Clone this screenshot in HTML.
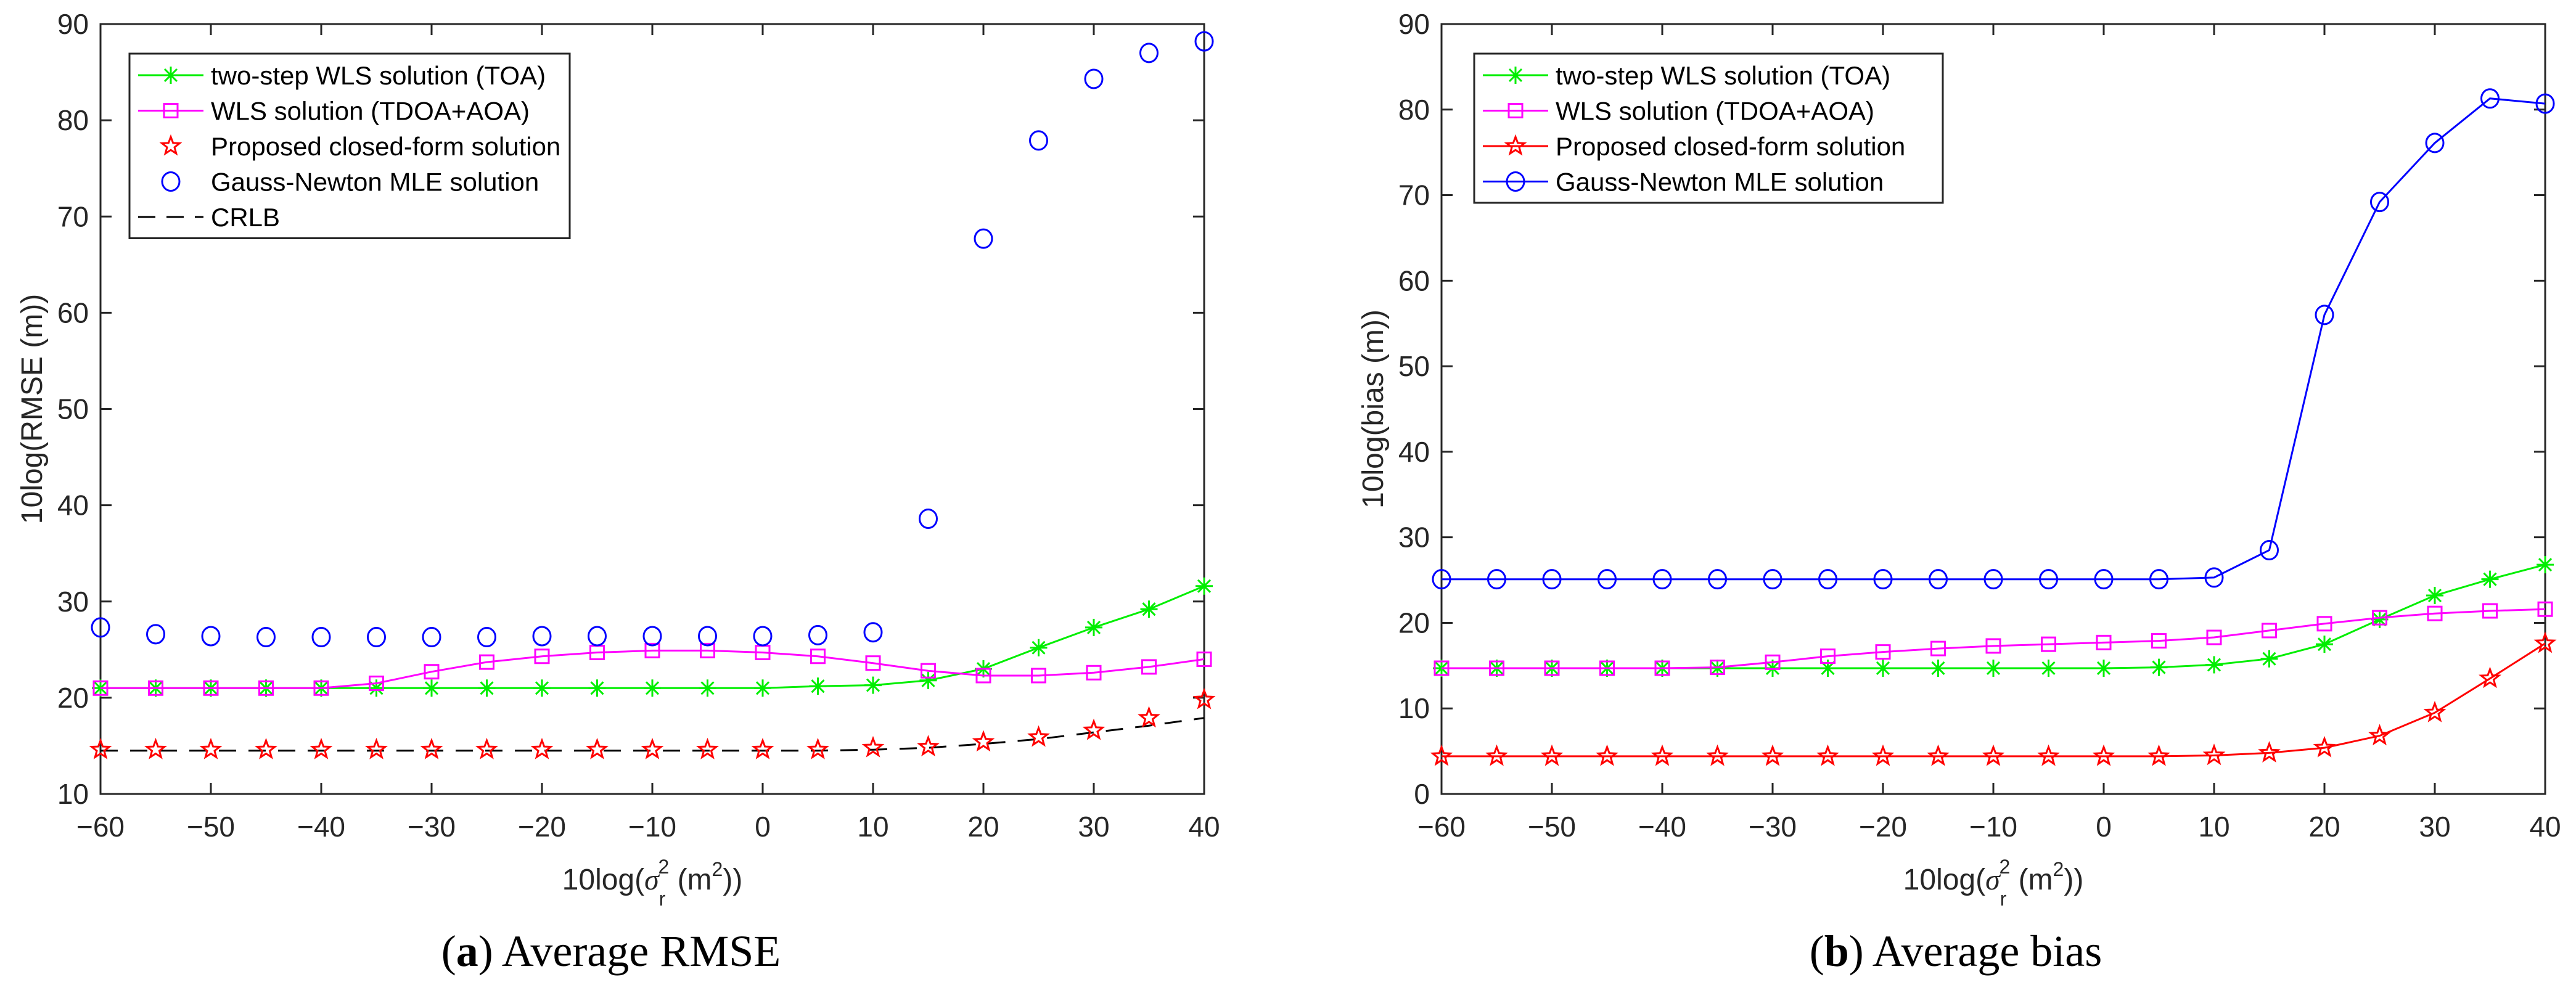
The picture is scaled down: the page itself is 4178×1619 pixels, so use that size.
<!DOCTYPE html>
<html><head><meta charset="utf-8"><style>
html,body{margin:0;padding:0;background:#fff;}
svg{display:block;font-family:"Liberation Sans",Arial,sans-serif;}
</style></head><body>
<svg id="fig" width="4178" height="1619" viewBox="0 0 4178 1619" xmlns="http://www.w3.org/2000/svg"></svg>
<script>
const xVals=[-60,-55,-50,-45,-40,-35,-30,-25,-20,-15,-10,-5,0,5,10,15,20,25,30,35,40];
const xTicks=[-60,-50,-40,-30,-20,-10,0,10,20,30,40];
const yTicksA=[10,20,30,40,50,60,70,80,90];
const yTicksB=[0,10,20,30,40,50,60,70,80,90];
// Panel (a) RMSE
const aTOA=[21,21,21,21,21,21,21,21,21,21,21,21,21,21.2,21.3,21.8,23.0,25.2,27.3,29.2,31.6];
const aTDOA=[21,21,21,21,21,21.5,22.7,23.7,24.3,24.7,24.9,24.9,24.7,24.3,23.6,22.8,22.3,22.3,22.6,23.2,24.0];
const aProp=[14.6,14.6,14.6,14.6,14.6,14.6,14.6,14.6,14.6,14.6,14.6,14.6,14.6,14.6,14.8,14.9,15.4,15.9,16.6,17.9,19.8];
const aGN=[27.3,26.6,26.4,26.3,26.3,26.3,26.3,26.3,26.4,26.4,26.4,26.4,26.4,26.5,26.8,38.6,67.7,77.9,84.3,87.0,88.2];
const aCRLB=[14.5,14.5,14.5,14.5,14.5,14.5,14.5,14.5,14.5,14.5,14.5,14.5,14.5,14.5,14.6,14.8,15.2,15.7,16.4,17.1,17.9];
// Panel (b) bias
const bTOA=[14.7,14.7,14.7,14.7,14.7,14.7,14.7,14.7,14.7,14.7,14.7,14.7,14.7,14.8,15.1,15.8,17.5,20.4,23.2,25.1,26.8];
const bTDOA=[14.7,14.7,14.7,14.7,14.7,14.8,15.4,16.1,16.6,17.0,17.3,17.5,17.7,17.9,18.3,19.1,19.9,20.6,21.1,21.4,21.6];
const bProp=[4.4,4.4,4.4,4.4,4.4,4.4,4.4,4.4,4.4,4.4,4.4,4.4,4.4,4.4,4.5,4.8,5.4,6.8,9.5,13.5,17.6];
const bGN=[25.1,25.1,25.1,25.1,25.1,25.1,25.1,25.1,25.1,25.1,25.1,25.1,25.1,25.1,25.3,28.5,56.0,69.2,76.1,81.3,80.7];

const NS="http://www.w3.org/2000/svg";
const svg=document.getElementById('fig');
function mk(tag,attrs,parent){const e=document.createElementNS(NS,tag);for(const k in attrs)e.setAttribute(k,attrs[k]);(parent||svg).appendChild(e);return e;}
function starPts(cx,cy,R){const r=R*0.42;let p=[];for(let i=0;i<10;i++){const a=-Math.PI/2+i*Math.PI/5;const rr=i%2?r:R;p.push((cx+rr*Math.cos(a)).toFixed(1)+','+(cy+rr*Math.sin(a)).toFixed(1));}return p.join(' ');}
function marker(type,cx,cy,g){
  if(type==='ast'){const s=14;
    const m=mk('g',{stroke:'#00ee00','stroke-width':3},g);
    
    mk('line',{x1:cx,y1:cy-s,x2:cx,y2:cy+s},m);mk('line',{x1:cx-s,y1:cy,x2:cx+s,y2:cy},m);
    mk('line',{x1:cx-10,y1:cy-10,x2:cx+10,y2:cy+10},m);mk('line',{x1:cx-10,y1:cy+10,x2:cx+10,y2:cy-10},m);}
  else if(type==='sq'){const e=mk('rect',{x:cx-11,y:cy-11,width:22,height:22,fill:'none',stroke:'#ff00ff','stroke-width':3},g);}
  else if(type==='star'){const e=mk('polygon',{points:starPts(cx,cy,15),fill:'none',stroke:'#ff0000','stroke-width':3},g);}
  else if(type==='circ'){const e=mk('ellipse',{cx:cx,cy:cy,rx:14,ry:15,fill:'none',stroke:'#0000ff','stroke-width':3},g);}
}
function panel(opt){
  const L=opt.left,R=opt.left+1790,T=39,B=1288;
  const sx=v=>L+(v+60)/100*(R-L);
  const sy=v=>B-(v-opt.ymin)/(opt.ymax-opt.ymin)*(B-T);
  const g=mk('g',{});
  const ax=mk('rect',{x:L,y:T,width:R-L,height:B-T,fill:'none',stroke:'#262626','stroke-width':3},g);
  
  xTicks.forEach(t=>{const x=sx(t);
    mk('line',{x1:x,y1:B,x2:x,y2:B-18,stroke:'#262626','stroke-width':3},g);
    mk('line',{x1:x,y1:T,x2:x,y2:T+18,stroke:'#262626','stroke-width':3},g);
    const tx=mk('text',{x:x,y:1357,'font-size':46,'text-anchor':'middle',fill:'#262626'},g);
    
    tx.textContent=(t<0?'\u2212'+(-t):''+t);});
  opt.yticks.forEach(t=>{const y=sy(t);
    mk('line',{x1:L,y1:y,x2:L+18,y2:y,stroke:'#262626','stroke-width':3},g);
    mk('line',{x1:R,y1:y,x2:R-18,y2:y,stroke:'#262626','stroke-width':3},g);
    const tx=mk('text',{x:L-19,y:y+16,'font-size':46,'text-anchor':'end',fill:'#262626'},g);
    
    tx.textContent=t;});
  const yl=mk('text',{x:0,y:0,'font-size':48,'text-anchor':'middle',fill:'#262626',transform:`translate(${L-95},${(T+B)/2}) rotate(-90)`},g);
  yl.textContent=opt.ylabel;
  const xl=mk('text',{x:(L+R)/2,y:1443,'font-size':48,'text-anchor':'middle',fill:'#262626'},g);
  
  xl.innerHTML='10log(<tspan font-family="Liberation Serif,serif" font-style="italic">σ</tspan><tspan dy="26" font-size="32">r</tspan><tspan dy="-52" dx="-12" font-size="32">2</tspan><tspan dy="26"> (m</tspan><tspan dy="-22" font-size="32">2</tspan><tspan dy="22">))</tspan>';
  const cap=mk('text',{x:opt.capx,y:1567,'font-size':72,'text-anchor':'middle',fill:'#000','font-family':'Liberation Serif,serif'},g);
  
  cap.innerHTML='(<tspan font-weight="bold">'+opt.letter+'</tspan>) '+opt.caption;
  return {g,sx,sy};
}
function series(p,vals,color,mtype,line,dash,name){
  const sg=mk('g',{},p.g);
  if(line){const pts=vals.map((v,i)=>p.sx(xVals[i]).toFixed(1)+','+p.sy(v).toFixed(1)).join(' ');
    const pl=mk('polyline',{points:pts,fill:'none',stroke:color,'stroke-width':3});sg.appendChild(pl);
    if(dash)pl.setAttribute('stroke-dasharray','28,20');
    }
  if(mtype)vals.forEach((v,i)=>marker(mtype,p.sx(xVals[i]),p.sy(v),sg));
}
function legend(p,x,y,w,entries){
  const lg=mk('g',{},p.g);
  const h=entries.length*57.5+12;
  mk('rect',{x:x,y:y,width:w,height:h,fill:'#fff',stroke:'#262626','stroke-width':3},lg);
  entries.forEach((e,i)=>{const cy=y+35+i*57.5;
    const eg=mk('g',{},lg);
    if(e.line)mk('line',{x1:x+14,y1:cy,x2:x+120,y2:cy,stroke:e.color,'stroke-width':3,'stroke-dasharray':e.dash?'28,18':'none'},eg);
    if(e.m)marker(e.m,x+67,cy,eg);
    const t=mk('text',{x:x+132,y:cy+15,'font-size':42,fill:'#000'},eg);t.textContent=e.label;});
}
const pa=panel({name:'rmse-panel',left:163,ymin:10,ymax:90,yticks:yTicksA,ylabel:'10log(RMSE (m))',capx:991,letter:'a',caption:'Average RMSE'});
series(pa,aCRLB,'#000',null,true,true,'crlb-series');
series(pa,aTOA,'#00ee00','ast',true,false,'toa-series');
series(pa,aTDOA,'#ff00ff','sq',true,false,'tdoa-aoa-series');
series(pa,aProp,'#ff0000','star',false,false,'proposed-series');
series(pa,aGN,'#0000ff','circ',false,false,'gauss-newton-series');
legend(pa,210,87,714,[
 {label:'two-step WLS solution (TOA)',color:'#00ee00',line:true,m:'ast'},
 {label:'WLS solution (TDOA+AOA)',color:'#ff00ff',line:true,m:'sq'},
 {label:'Proposed closed-form solution',color:'#ff0000',line:false,m:'star'},
 {label:'Gauss-Newton MLE solution',color:'#0000ff',line:false,m:'circ'},
 {label:'CRLB',color:'#000',line:true,dash:true}]);
const pb=panel({name:'bias-panel',left:2338,ymin:0,ymax:90,yticks:yTicksB,ylabel:'10log(bias (m))',capx:3172,letter:'b',caption:'Average bias'});
series(pb,bTOA,'#00ee00','ast',true,false,'toa-series');
series(pb,bTDOA,'#ff00ff','sq',true,false,'tdoa-aoa-series');
series(pb,bProp,'#ff0000','star',true,false,'proposed-series');
series(pb,bGN,'#0000ff','circ',true,false,'gauss-newton-series');
legend(pb,2391,87,760,[
 {label:'two-step WLS solution (TOA)',color:'#00ee00',line:true,m:'ast'},
 {label:'WLS solution (TDOA+AOA)',color:'#ff00ff',line:true,m:'sq'},
 {label:'Proposed closed-form solution',color:'#ff0000',line:true,m:'star'},
 {label:'Gauss-Newton MLE solution',color:'#0000ff',line:true,m:'circ'}]);
</script>
</body></html>
